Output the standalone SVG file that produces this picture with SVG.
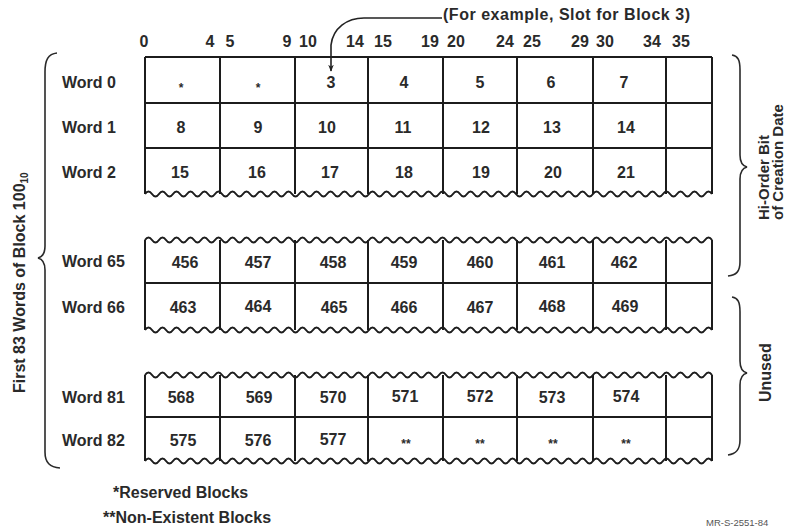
<svg xmlns="http://www.w3.org/2000/svg" width="785" height="529" viewBox="0 0 785 529">
<style>
.t{font-family:"Liberation Sans",Arial,sans-serif;font-weight:bold;font-size:16px;fill:#2a2a2a}
.m{text-anchor:middle}
.s{font-size:12px}
.v{font-size:15px}
.ln{stroke:#1c1c1c;stroke-width:2;fill:none}
.br{stroke:#2a2a2a;stroke-width:1.6;fill:none}
</style>
<defs>
<path id="wave" d="M0,0 q3.5,-5 7,0 t7,0 t7,0 t7,0 t7,0 t7,0 t7,0 t7,0 t7,0 t7,0 t7,0 t7,0 t7,0 t7,0 t7,0 t7,0 t7,0 t7,0 t7,0 t7,0 t7,0 t7,0 t7,0 t7,0 t7,0 t7,0 t7,0 t7,0 t7,0 t7,0 t7,0 t7,0 t7,0 t7,0 t7,0 t7,0 t7,0 t7,0 t7,0 t7,0 t7,0 t7,0 t7,0 t7,0 t7,0 t7,0 t7,0 t7,0 t7,0 t7,0 t7,0 t7,0 t7,0 t7,0 t7,0 t7,0 t7,0 t7,0 t7,0 t7,0 t7,0 t7,0 t7,0 t7,0 t7,0 t7,0 t7,0 t7,0 t7,0 t7,0 t7,0 t7,0 t7,0 t7,0 t7,0 t7,0 t7,0 t7,0 t7,0 t7,0 t7,0"/>
<marker id="ah" viewBox="0 0 10 10" refX="9" refY="5" markerWidth="7" markerHeight="7" orient="auto" markerUnits="userSpaceOnUse">
<path d="M0,1 L10,5 L0,9 L3,5 Z" fill="#222"/>
</marker>
</defs>

<g id="header">
<text class="t m" x="144" y="47">0</text>
<text class="t m" x="210" y="47">4</text>
<text class="t m" x="230" y="47">5</text>
<text class="t m" x="287" y="47">9</text>
<text class="t m" x="308" y="47">10</text>
<text class="t m" x="355" y="47">14</text>
<text class="t m" x="383" y="47">15</text>
<text class="t m" x="430" y="47">19</text>
<text class="t m" x="456" y="47">20</text>
<text class="t m" x="505" y="47">24</text>
<text class="t m" x="532" y="47">25</text>
<text class="t m" x="580" y="47">29</text>
<text class="t m" x="605" y="47">30</text>
<text class="t m" x="652" y="47">34</text>
<text class="t m" x="681" y="47">35</text>
<text class="t" x="443" y="20" textLength="247" lengthAdjust="spacing">(For example, Slot for Block 3)</text>
</g>

<g id="block-a">
<path class="ln" d="M145,57 H712 M145,103 H712 M145,148 H712 M145,57 V194 M220,57 V194 M295,57 V194 M368,57 V194 M443,57 V194 M517,57 V194 M593,57 V194 M666,57 V194 M712,57 V194"/>
<use href="#wave" x="145" y="194" class="ln"/>
</g>
<g id="block-b">
<use href="#wave" x="145" y="240" class="ln"/>
<path class="ln" d="M145,283 H712 M145,240 V330 M220,240 V330 M295,240 V330 M368,240 V330 M443,240 V330 M517,240 V330 M593,240 V330 M666,240 V330 M712,240 V330"/>
<use href="#wave" x="145" y="330" class="ln"/>
</g>
<g id="block-c">
<use href="#wave" x="145" y="375" class="ln"/>
<path class="ln" d="M145,417 H712 M145,375 V461 M220,375 V461 M295,375 V461 M368,375 V461 M443,375 V461 M517,375 V461 M593,375 V461 M666,375 V461 M712,375 V461"/>
<use href="#wave" x="145" y="461" class="ln"/>
</g>

<g id="word0">
<text class="t" x="62" y="88">Word 0</text>
<text class="t m s" x="181" y="92">*</text><text class="t m s" x="258" y="92">*</text>
<text class="t m" x="331" y="88">3</text><text class="t m" x="404" y="88">4</text><text class="t m" x="480" y="88">5</text><text class="t m" x="551" y="88">6</text><text class="t m" x="624" y="88">7</text>
</g>
<g id="word1">
<text class="t" x="62" y="133">Word 1</text>
<text class="t m" x="181" y="133">8</text><text class="t m" x="258" y="133">9</text><text class="t m" x="327" y="133">10</text><text class="t m" x="403" y="133">11</text><text class="t m" x="481" y="133">12</text><text class="t m" x="552" y="133">13</text><text class="t m" x="626" y="133">14</text>
</g>
<g id="word2">
<text class="t" x="62" y="178">Word 2</text>
<text class="t m" x="180" y="178">15</text><text class="t m" x="257" y="178">16</text><text class="t m" x="330" y="178">17</text><text class="t m" x="404" y="178">18</text><text class="t m" x="481" y="178">19</text><text class="t m" x="553" y="178">20</text><text class="t m" x="626" y="178">21</text>
</g>
<g id="word65">
<text class="t" x="62" y="267">Word 65</text>
<text class="t m" x="185" y="268">456</text><text class="t m" x="258" y="268">457</text><text class="t m" x="333" y="268">458</text><text class="t m" x="404" y="268">459</text><text class="t m" x="480" y="268">460</text><text class="t m" x="552" y="268">461</text><text class="t m" x="624" y="268">462</text>
</g>
<g id="word66">
<text class="t" x="62" y="313">Word 66</text>
<text class="t m" x="183" y="313">463</text><text class="t m" x="258" y="312">464</text><text class="t m" x="334" y="313">465</text><text class="t m" x="404" y="313">466</text><text class="t m" x="480" y="313">467</text><text class="t m" x="552" y="312">468</text><text class="t m" x="625" y="312">469</text>
</g>
<g id="word81">
<text class="t" x="62" y="403">Word 81</text>
<text class="t m" x="181" y="403">568</text><text class="t m" x="259" y="403">569</text><text class="t m" x="333" y="403">570</text><text class="t m" x="405" y="402">571</text><text class="t m" x="480" y="402">572</text><text class="t m" x="552" y="403">573</text><text class="t m" x="626" y="402">574</text>
</g>
<g id="word82">
<text class="t" x="62" y="446">Word 82</text>
<text class="t m" x="183" y="446">575</text><text class="t m" x="258" y="446">576</text><text class="t m" x="333" y="445">577</text>
<text class="t m s" x="406" y="448">**</text><text class="t m s" x="480" y="448">**</text><text class="t m s" x="553" y="448">**</text><text class="t m s" x="626" y="448">**</text>
</g>

<g id="connectors">
<path d="M442,18 H364 C347,18 333,28 331,45 V71" fill="none" stroke="#222" stroke-width="1.6" marker-end="url(#ah)"/>
</g>

<g id="braces">
<path class="br" d="M57,53 C48,54 45,60 45,72 V246 C45,254 42,257 38,258 C42,259 45,262 45,270 V452 C45,463 50,467 60,468"/>
<path class="br" d="M732,55 C738,56 740,60 740,70 V155 C740,163 743,166 747,167 C743,168 740,171 740,179 V262 C740,272 736,275 728,276"/>
<path class="br" d="M732,297 C738,298 740,302 740,312 V361 C740,369 743,372 747,373 C743,374 740,377 740,385 V440 C740,450 736,454 728,455"/>
</g>

<g id="labels">
<text class="t" transform="translate(25,393) rotate(-90)">First 83 Words of Block 100<tspan font-size="10" dy="3">10</tspan></text>
<text class="t v" transform="translate(769,220) rotate(-90)">Hi-Order Bit</text>
<text class="t v" transform="translate(783,220) rotate(-90)">of Creation Date</text>
<text class="t" transform="translate(771,402) rotate(-90)">Unused</text>
<text class="t" x="113" y="498">*Reserved Blocks</text>
<text class="t" x="103" y="523">**Non-Existent Blocks</text>
<text x="706" y="526" style="font-family:'Liberation Sans',Arial,sans-serif;font-size:9.5px;fill:#555">MR-S-2551-84</text>
</g>
</svg>
